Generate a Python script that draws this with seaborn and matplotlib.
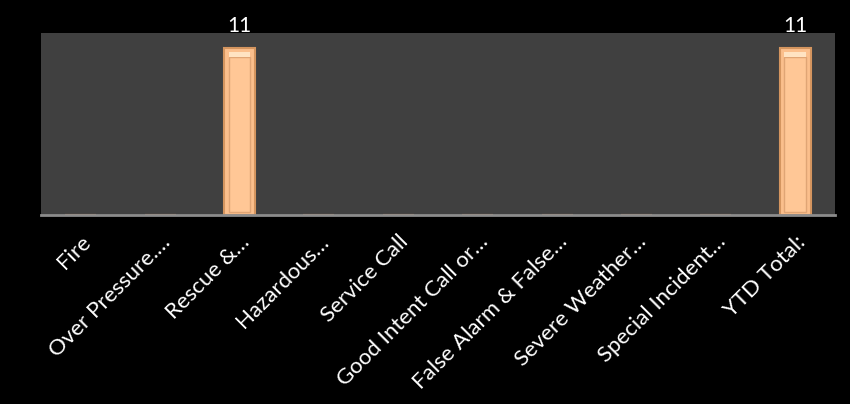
import matplotlib
matplotlib.use("Agg")
import matplotlib.pyplot as plt
import seaborn as sns
import pandas as pd

categories = ["Fire", "Over Pressure.…", "Rescue &…", "Hazardous…", "Service Call",
              "Good Intent Call or…", "False Alarm & False…", "Severe Weather…",
              "Special Incident…", "YTD Total:"]
counts = [0, 0, 11, 0, 0, 0, 0, 0, 0, 11]

sns.set_style("dark")
plt.rcParams["font.family"] = ["Lato", "DejaVu Sans"]

df = pd.DataFrame({"cat": categories, "n": counts})

fig = plt.figure(figsize=(8.5, 4.04), dpi=100, facecolor="black")
ax = fig.add_axes([41 / 850, 1 - 215 / 404, (835 - 41) / 850, (215 - 33) / 404])
ax.set_facecolor("#404040")

sns.barplot(data=df, x="cat", y="n", ax=ax, color="#FBBF8C", width=0.39,
            edgecolor="#D4955F", linewidth=1.5, saturation=1)

# inner bevel look
for p in ax.patches:
    if p.get_height() > 0:
        x, w, h = p.get_x(), p.get_width(), p.get_height()
        ax.add_patch(plt.Rectangle((x + w * 0.15, h * 0.02), w * 0.7, h * 0.93,
                                   facecolor="#FFC796", edgecolor="#E0A575", linewidth=1))
        ax.add_patch(plt.Rectangle((x + w * 0.15, h * 0.95), w * 0.7, h * 0.025,
                                   facecolor="#FFE3C2", edgecolor="none"))

labels = [str(v) if v else "" for v in counts]
ax.bar_label(ax.containers[0], labels=labels, color="white", fontsize=15, padding=9)

ax.set_ylim(0, 12)
ax.set_xlim(-0.5, len(categories) - 0.5)
ax.set_yticks([])
ax.set_xlabel("")
ax.set_ylabel("")
ax.grid(False)
for s in ["top", "left", "right"]:
    ax.spines[s].set_visible(False)
ax.spines["bottom"].set_color("#8C8C8C")
ax.spines["bottom"].set_linewidth(2)

ax.tick_params(axis="x", length=0, pad=12, colors="white")
plt.setp(ax.get_xticklabels(), rotation=45, ha="right", rotation_mode="anchor",
         fontsize=16, color="white")

fig.savefig("out.png", dpi=100, facecolor="black")
